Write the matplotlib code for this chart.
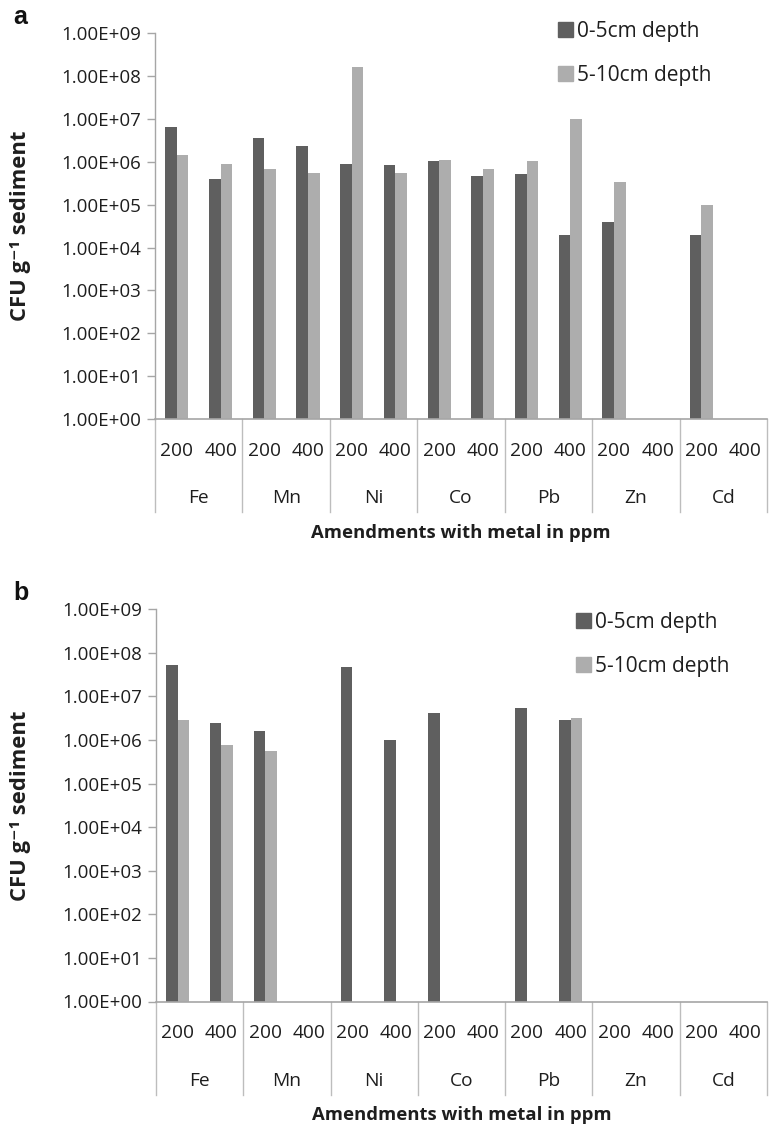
import numpy as np
import matplotlib
matplotlib.use("Agg")
import matplotlib.pyplot as plt
from matplotlib.ticker import FixedLocator, FuncFormatter, NullLocator
from matplotlib.transforms import blended_transform_factory
from matplotlib.patches import Patch

plt.rcParams['font.family'] = ['Open Sans', 'DejaVu Sans']

metals = ["Fe", "Mn", "Ni", "Co", "Pb", "Zn", "Cd"]
doses = ["200", "400"]
series_names = ["0-5cm depth", "5-10cm depth"]

# Panel a values (CFU g-1 sediment), nan = no bar
a_top = [6.5e6, 3.9e5, 3.7e6, 2.4e6, 9.0e5, 8.4e5, 1.07e6, 4.8e5,
         5.3e5, 1.95e4, 3.9e4, np.nan, 1.95e4, np.nan]
a_bottom = [1.45e6, 9.0e5, 6.8e5, 5.4e5, 1.65e8, 5.6e5, 1.13e6, 6.7e5,
            1.07e6, 1.0e7, 3.4e5, np.nan, 1.0e5, np.nan]
# Panel b values
b_top = [5.4e7, 2.4e6, 1.58e6, np.nan, 4.8e7, 1.0e6, 4.2e6, np.nan,
         5.4e6, 2.9e6, np.nan, np.nan, np.nan, np.nan]
b_bottom = [2.9e6, 7.5e5, 5.5e5, np.nan, np.nan, np.nan, np.nan, np.nan,
            np.nan, 3.2e6, np.nan, np.nan, np.nan, np.nan]

ytick_vals = [10.0 ** k for k in range(0, 10)]

DARK = "#5f5f5f"
LIGHT = "#adadad"
AXC = "#a6a6a6"
TXT = "#1e1e1e"

W, H = 769, 1126
fig = plt.figure(figsize=(W / 100, H / 100), dpi=100)


def make_panel(rect_px, top_vals, bot_vals, letter, legend_px, ylab_y):
    left, right, top, bottom = rect_px
    ax = fig.add_axes([left / W, 1 - bottom / H, (right - left) / W, (bottom - top) / H])
    ax_h = bottom - top
    n = len(metals) * len(doses)
    centers = np.arange(n) + 0.5
    bw = 0.265
    t = np.array(top_vals, dtype=float)
    b = np.array(bot_vals, dtype=float)
    mt = ~np.isnan(t)
    mb = ~np.isnan(b)
    ax.bar(centers[mt] - bw / 2, t[mt], width=bw, color=DARK, label=series_names[0])
    ax.bar(centers[mb] + bw / 2, b[mb], width=bw, color=LIGHT, label=series_names[1])
    ax.set_yscale('log')
    ax.set_ylim(1, 1e9)
    ax.set_xlim(0, n)
    ax.yaxis.set_major_locator(FixedLocator(ytick_vals))
    ax.yaxis.set_minor_locator(NullLocator())
    ax.yaxis.set_major_formatter(FuncFormatter(lambda v, p: "%.2fE+%02d" % (1.0, int(round(np.log10(v))))))
    ax.tick_params(axis='y', length=6, width=1, color=AXC, labelsize=13.5, labelcolor=TXT, pad=4)
    ax.set_xticks([])
    for s in ['top', 'right']:
        ax.spines[s].set_visible(False)
    ax.spines['left'].set_color(AXC)
    ax.spines['bottom'].set_color(AXC)
    ax.spines['left'].set_linewidth(1)
    ax.spines['bottom'].set_linewidth(1.2)

    tr = blended_transform_factory(ax.transData, ax.transAxes)
    sep_depth = 93.0 / ax_h
    for k in range(len(metals) + 1):
        ax.plot([2 * k, 2 * k], [0, -sep_depth], transform=tr, color="#bdbdbd", lw=1, clip_on=False)
    for i in range(n):
        ax.text(centers[i], -32.0 / ax_h, doses[i % 2], transform=tr, ha='center', va='center',
                fontsize=13.8, color=TXT)
    for k, m in enumerate(metals):
        ax.text(2 * k + 1, -79.0 / ax_h, m, transform=tr, ha='center', va='center',
                fontsize=13.8, color=TXT)
    ax.text(0.5 * n, -114.0 / ax_h, "Amendments with metal in ppm", transform=tr,
            ha='center', va='center', fontsize=13.3, fontweight='bold', color=TXT)

    ax.set_ylabel("CFU g\u207b\u00b9 sediment", fontsize=15.8, fontweight='bold', color=TXT)
    ax.yaxis.label.set_va('center')
    ax.yaxis.set_label_coords((21 - left) / (right - left), ylab_y)

    fig.text(13 / W, 1 - (top - 16) / H, letter, fontsize=18, fontweight='bold',
             family='Liberation Sans', ha='left', va='center', color='#111111')

    handles = [Patch(color=DARK), Patch(color=LIGHT)]
    fig.legend(handles, series_names, loc='upper left',
               bbox_to_anchor=(legend_px[0] / W, 1 - legend_px[1] / H),
               frameon=False, fontsize=15, handlelength=0.7, handleheight=0.7,
               handletextpad=0.2, labelspacing=1.1, borderpad=0, borderaxespad=0,
               labelcolor=TXT)
    return ax


make_panel((155, 767, 33.3, 419.0), a_top, a_bottom, "a", (558, 21), 0.5)
make_panel((156, 767, 609.3, 1001.5), b_top, b_bottom, "b", (576, 612), 0.5)

fig.savefig("out.png", dpi=100)
